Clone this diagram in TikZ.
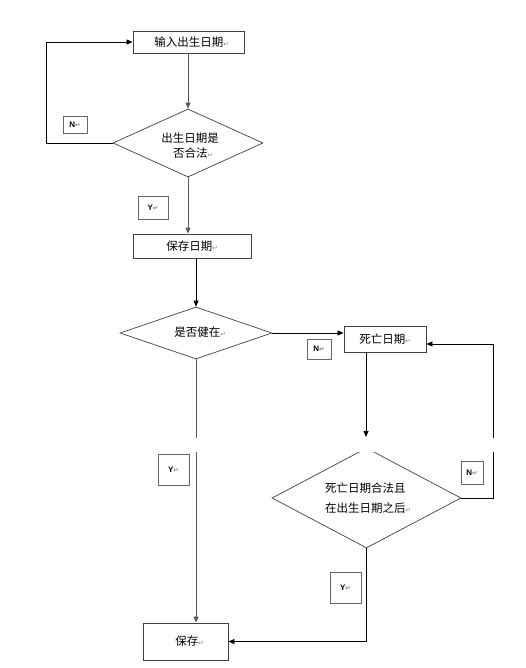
\documentclass[tikz,border=0pt]{standalone}
\usepackage{fontspec}
\setmainfont{Noto Sans CJK SC}
\newfontfamily\symfont{DejaVu Sans}
\newfontfamily\lblfont{Liberation Sans}
\usetikzlibrary{shapes.geometric,arrows.meta}
\newcommand{\rtmark}{{\symfont\color{gray}\fontsize{6.5}{6.5}\selectfont ↵}}
\tikzset{
  every node/.style={font=\fontsize{11.5}{15}\selectfont},
  procbox/.style={draw=black!75, line width=0.9pt, inner sep=0pt},
  decision/.style={diamond, draw=black!75, line width=0.7pt, inner sep=0pt, aspect=2.5},
  tagbox/.style={draw=black!60, line width=0.7pt, inner sep=0pt, font=\lblfont\bfseries\fontsize{8}{9}\selectfont},
  conn/.style={line width=0.8pt, draw=black},
  gconn/.style={line width=0.9pt, draw=black!65},
  arr/.style={-{Triangle[length=6pt,width=5pt]}}
}
\begin{document}
\begin{tikzpicture}[x=1pt,y=-1pt]
\useasboundingbox (0,0) rectangle (526,668);
% main nodes
\node[procbox, minimum width=111pt, minimum height=22pt] (b1) at (188.5,42) {\hspace{6pt}输入出生日期\rtmark};
\node[decision, minimum width=150pt, minimum height=68pt] (d1) at (188,143) {};
\node (d1t) at (190,145.5) [align=center] {出生日期是\\\hspace{6pt}否合法\rtmark};
\node[procbox, minimum width=118pt, minimum height=24pt] (b2) at (192,246) {保存日期\rtmark};
\node[decision, minimum width=152pt, minimum height=52pt] (d2) at (196,333) {};
\node (d2t) at (200,332) {是否健在\rtmark};
\node[procbox, minimum width=82pt, minimum height=26pt] (b3) at (385,339) {死亡日期\rtmark};
\node[decision, minimum width=189pt, minimum height=100pt] (d3) at (366.5,498) {};
\node (d3t) at (368,498) [align=left, font=\fontsize{11.5}{20}\selectfont] {死亡日期合法且\\在出生日期之后\rtmark};
\node[procbox, minimum width=85pt, minimum height=37pt] (b4) at (185.5,641.5) {\hspace{8pt}保存\rtmark};
% tags
\node[tagbox, minimum width=24pt, minimum height=17pt] (n1) at (75,124.5) {N\rtmark};
\node[tagbox, minimum width=30pt, minimum height=23pt] (y1) at (153,207.5) {Y\rtmark};
\node[tagbox, minimum width=24pt, minimum height=20pt] (n2) at (319,349) {N\rtmark};
\node[tagbox, minimum width=31pt, minimum height=31pt] (y2) at (173.5,469.5) {Y\rtmark};
\node[tagbox, minimum width=22pt, minimum height=23pt] (n3) at (472,472.5) {N\rtmark};
\node[tagbox, minimum width=31pt, minimum height=31pt] (y3) at (345.5,587.5) {Y\rtmark};
% helper coordinates
\coordinate (lloop) at (46,0);
\coordinate (rloop) at (493,0);
\coordinate (cut) at (366,437);
\coordinate (b3in) at ([yshift=-5pt]b3.east);
% connectors
\draw[gconn,arr] (b1.south -| d1.north) -- (d1.north);
\draw[conn,arr] (d1.west) -- (d1.west -| lloop) -- (lloop |- b1.west) -- (b1.west);
\draw[gconn,arr] (d1.south) -- (d1.south |- b2.north);
\draw[conn,arr] (d2.north |- b2.south) -- (d2.north);
\draw[conn,arr] (d2.east) -- (d2.east -| b3.west);
\draw[gconn,arr] (d2.south) -- (d2.south |- b4.north);
\draw[conn,arr] (cut |- b3.south) -- (cut);
\draw[conn,arr] (d3.east) -- (d3.east -| rloop) -- (rloop |- b3in) -- (b3in);
\draw[conn,arr] (d3.south) |- (b4.east);
% page gap band
\fill[white] (0,438) rectangle (526,451.5);
\end{tikzpicture}
\end{document}
